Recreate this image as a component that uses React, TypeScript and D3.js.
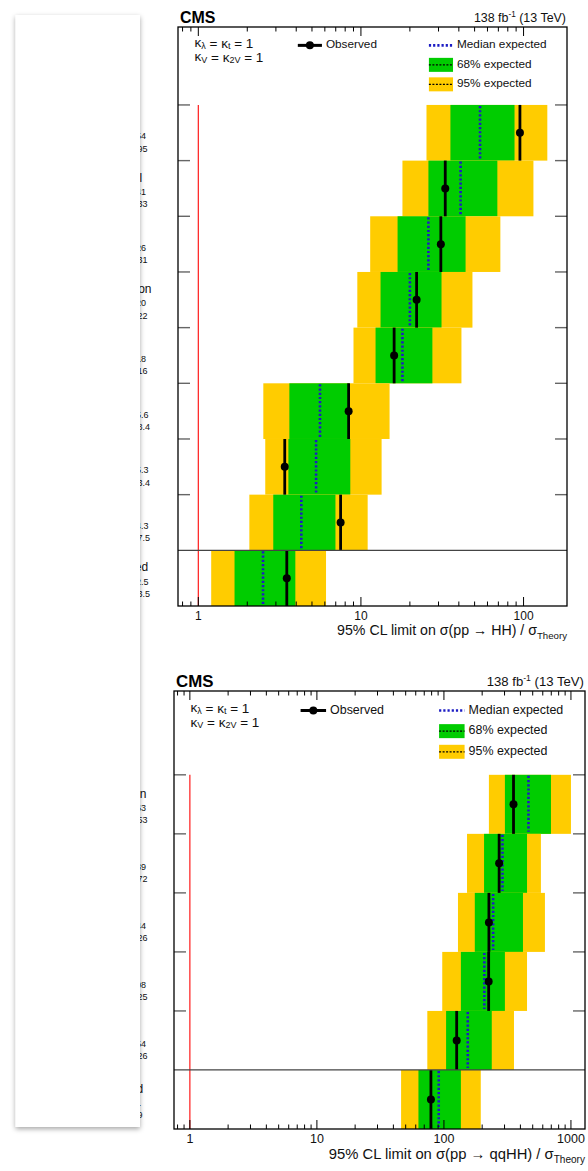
import React from "react";
import * as d3 from "d3";

// ---------- data: pp -> HH ----------
const hhChannels = ["bbZZ", "bbWW 2l", "WWγγ", "Multilepton", "ττγγ", "bbγγ", "bbττ", "bbbb", "Combined"];
const hhObserved = [95, 33, 31, 22, 16, 8.4, 3.4, 7.5, 3.5];
const hhMedian = [54, 41, 26, 20, 18, 5.6, 5.3, 4.3, 2.5];
const hhLo68 = [35.5, 26, 16.8, 13.2, 12.3, 3.63, 3.58, 2.89, 1.67];
const hhHi68 = [88, 69, 44, 31.3, 27.5, 8.5, 8.6, 6.97, 3.95];
const hhLo95 = [25.3, 18, 11.4, 9.5, 9.0, 2.51, 2.58, 2.06, 1.2];
const hhHi95 = [140, 115, 72, 48.5, 41.5, 15, 13.4, 11, 6.1];
const hhDomain = [0.75, 185];

// ---------- data: pp -> qqHH ----------
const qqChannels = ["Multilepton", "bbZZ", "bbγγ", "bbττ", "bbbb", "Combined"];
const qqObserved = [353, 272, 226, 225, 126, 79];
const qqMedian = [463, 289, 244, 208, 154, 91];
const qqLo68 = [302, 207, 175, 136, 104, 63];
const qqHi68 = [696, 451, 419, 302, 238, 136];
const qqLo95 = [226, 152, 129, 97, 74, 46];
const qqHi95 = [1000, 580, 624, 451, 356, 195];
const qqDomain = [0.75, 1290];

const FONT = "'Liberation Sans', Arial, Helvetica, sans-serif";
const YELLOW = "#FFCC00";
const GREEN = "#00CC00";
const BLUE = "#1c1cc4";

type PanelProps = {
  left: number; top: number; right: number; bottom: number;
  legendRows: number;
  domain: number[];
  cats: string[]; obs: number[]; med: number[];
  lo68: number[]; hi68: number[]; lo95: number[]; hi95: number[];
  proc: string;
  labelX: number;
  tickFont: number;
  titleFont: number;
};

function Panel(p: PanelProps) {
  const { left, top, right, bottom, legendRows, domain, cats } = p;
  const w = right - left;
  const h = bottom - top;
  const n = cats.length;
  const rowH = h / (n + legendRows);
  const x = d3.scaleLog().domain(domain).range([left, right]);
  const y = d3.scaleBand<string>().domain(cats).range([top + legendRows * rowH, bottom]).padding(0);
  const bw = y.bandwidth();
  const ticks = x.ticks();
  const isMajor = (v: number) => Math.abs(Math.log10(v) - Math.round(Math.log10(v))) < 1e-9;
  const lf = w * 0.0303;
  const legY = top + 0.33 * rowH;
  const box68 = top + 0.68 * rowH;
  const box95 = top + 1.03 * rowH;
  const legObsX = left + 0.308 * w;
  const legMedX = left + 0.645 * w;
  const legLen = 0.062 * w;
  const kx = left + 16.5;
  const fmt = (v: number) => (v < 10 ? d3.format(".1f")(v) : d3.format(".0f")(v));
  const lastTop = y(cats[n - 1]) as number;

  return (
    <g fontFamily={FONT}>
      {/* labels (mostly hidden behind the card) */}
      {cats.map((c, i) => {
        const cy = (y(c) as number) + bw / 2;
        return (
          <g key={"lab" + c + i} fill="#111">
            <text x={p.labelX} y={cy - 10} fontSize={12} dominantBaseline="middle">{c}</text>
            <text x={p.labelX} y={cy + 4} fontSize={9} dominantBaseline="middle">{"Expected: " + fmt(p.med[i])}</text>
            <text x={p.labelX} y={cy + 16.5} fontSize={9} dominantBaseline="middle">{"Observed: " + fmt(p.obs[i])}</text>
          </g>
        );
      })}

      {/* bands */}
      {cats.map((c, i) => {
        const ry = y(c) as number;
        return (
          <g key={"row" + c + i}>
            <rect x={x(p.lo95[i])} y={ry} width={x(p.hi95[i]) - x(p.lo95[i])} height={bw} fill={YELLOW} />
            <rect x={x(p.lo68[i])} y={ry} width={x(p.hi68[i]) - x(p.lo68[i])} height={bw} fill={GREEN} />
          </g>
        );
      })}

      {/* red line at 1 */}
      <line x1={x(1)} x2={x(1)} y1={top + legendRows * rowH} y2={bottom} stroke="#ff1a1a" strokeWidth={1.2} />

      {cats.map((c, i) => {
        const ry = y(c) as number;
        return (
          <g key={"mk" + c + i}>
            <line x1={x(p.med[i])} x2={x(p.med[i])} y1={ry + 1} y2={ry + bw - 2} stroke={BLUE} strokeWidth={2.6} strokeDasharray="2.2,2" />
            <line x1={x(p.obs[i])} x2={x(p.obs[i])} y1={ry} y2={ry + bw} stroke="#000" strokeWidth={2.8} />
            <circle cx={x(p.obs[i])} cy={ry + bw / 2} r={4} fill="#000" />
          </g>
        );
      })}

      {/* row separators / ticks */}
      {cats.slice(0, n - 1).map((c, i) => (
        <g key={"rt" + c + i} stroke="#666" strokeWidth={1.4}>
          <line x1={left} x2={left + 12} y1={y(c)} y2={y(c)} />
          <line x1={right - 12} x2={right} y1={y(c)} y2={y(c)} />
        </g>
      ))}
      <line x1={left} x2={right} y1={lastTop} y2={lastTop} stroke="#444" strokeWidth={1.3} />

      {/* frame */}
      <rect x={left} y={top} width={w} height={h} fill="none" stroke="#000" strokeWidth={1.3} />

      {/* x ticks */}
      {ticks.map((t, i) => {
        const L = isMajor(t) ? 9 : 4.5;
        return (
          <g key={"xt" + i} stroke="#000" strokeWidth={1}>
            <line x1={x(t)} x2={x(t)} y1={bottom} y2={bottom - L} />
            <line x1={x(t)} x2={x(t)} y1={top} y2={top + L} />
          </g>
        );
      })}
      {ticks.filter(isMajor).map((t, i) => (
        <text key={"xl" + i} x={x(t)} y={bottom + 14} fontSize={p.tickFont} textAnchor="middle" fill="#111">
          {d3.format("d")(t)}
        </text>
      ))}

      {/* axis title */}
      <text x={right} y={bottom + 29 + (p.titleFont - 14) * 0.8} fontSize={p.titleFont} textAnchor="end" fill="#111">
        {"95% CL limit on σ(pp → " + p.proc + ") / σ"}
        <tspan fontSize={p.titleFont * 0.68} dy={4}>Theory</tspan>
      </text>

      {/* CMS + lumi */}
      <text x={left + 2} y={top - 4} fontSize={w * 0.041} fontWeight="bold" fill="#000">CMS</text>
      <text x={right - 1} y={top - 5} fontSize={w * 0.032} textAnchor="end" fill="#111">
        138 fb<tspan fontSize={w * 0.021} dy={-5}>-1</tspan><tspan dy={5}> (13 TeV)</tspan>
      </text>

      {/* kappa text */}
      <text x={kx} y={top + 0.3 * rowH} fontSize={13.5} dominantBaseline="middle" fill="#111">
        κ<tspan fontSize={9} dy={3}>λ</tspan><tspan dy={-3}> = κ</tspan><tspan fontSize={9} dy={3}>t</tspan><tspan dy={-3}> = 1</tspan>
      </text>
      <text x={kx} y={top + 0.55 * rowH} fontSize={13.5} dominantBaseline="middle" fill="#111">
        κ<tspan fontSize={9} dy={3}>V</tspan><tspan dy={-3}> = κ</tspan><tspan fontSize={9} dy={3}>2V</tspan><tspan dy={-3}> = 1</tspan>
      </text>

      {/* legend */}
      <line x1={legObsX} x2={legObsX + legLen} y1={legY} y2={legY} stroke="#000" strokeWidth={3} />
      <circle cx={legObsX + legLen / 2} cy={legY} r={4} fill="#000" />
      <text x={legObsX + legLen + 4} y={legY} fontSize={lf} dominantBaseline="middle" fill="#111">Observed</text>

      <line x1={legMedX} x2={legMedX + legLen} y1={legY} y2={legY} stroke={BLUE} strokeWidth={2.6} strokeDasharray="2.2,2" />
      <text x={legMedX + legLen + 4} y={legY} fontSize={lf} dominantBaseline="middle" fill="#111">Median expected</text>

      <rect x={legMedX} y={box68 - 7} width={legLen} height={14} fill={GREEN} />
      <line x1={legMedX} x2={legMedX + legLen} y1={box68} y2={box68} stroke="#000" strokeWidth={1.2} strokeDasharray="2,1.5" />
      <text x={legMedX + legLen + 4} y={box68} fontSize={lf} dominantBaseline="middle" fill="#111">68% expected</text>

      <rect x={legMedX} y={box95 - 7} width={legLen} height={14} fill={YELLOW} />
      <line x1={legMedX} x2={legMedX + legLen} y1={box95} y2={box95} stroke="#000" strokeWidth={1.2} strokeDasharray="2,1.5" />
      <text x={legMedX + legLen + 4} y={box95} fontSize={lf} dominantBaseline="middle" fill="#111">95% expected</text>
    </g>
  );
}

export default function App() {
  return (
    <svg width={588} height={1171} style={{ position: "absolute", left: 0, top: 0, background: "#fff" }}>
      <defs>
        <filter id="cardShadow" x="-20%" y="-5%" width="140%" height="110%">
          <feDropShadow dx="0" dy="2" stdDeviation="2.5" floodColor="#000" floodOpacity="0.35" />
        </filter>
      </defs>
      <rect width={588} height={1171} fill="#fff" />
      <Panel
        left={178} top={27} right={567} bottom={606} legendRows={1.4}
        domain={hhDomain} cats={hhChannels} obs={hhObserved} med={hhMedian}
        lo68={hhLo68} hi68={hhHi68} lo95={hhLo95} hi95={hhHi95}
        proc="HH" labelX={93.5} tickFont={12} titleFont={14.2}
      />
      <Panel
        left={174} top={691} right={585} bottom={1129} legendRows={1.42}
        domain={qqDomain} cats={qqChannels} obs={qqObserved} med={qqMedian}
        lo68={qqLo68} hi68={qqHi68} lo95={qqLo95} hi95={qqHi95}
        proc="qqHH" labelX={88.5} tickFont={12.5} titleFont={14.8}
      />
      {/* overlay card */}
      <rect x={15.5} y={15} width={124.5} height={1112} fill="#fff" filter="url(#cardShadow)" />
    </svg>
  );
}
